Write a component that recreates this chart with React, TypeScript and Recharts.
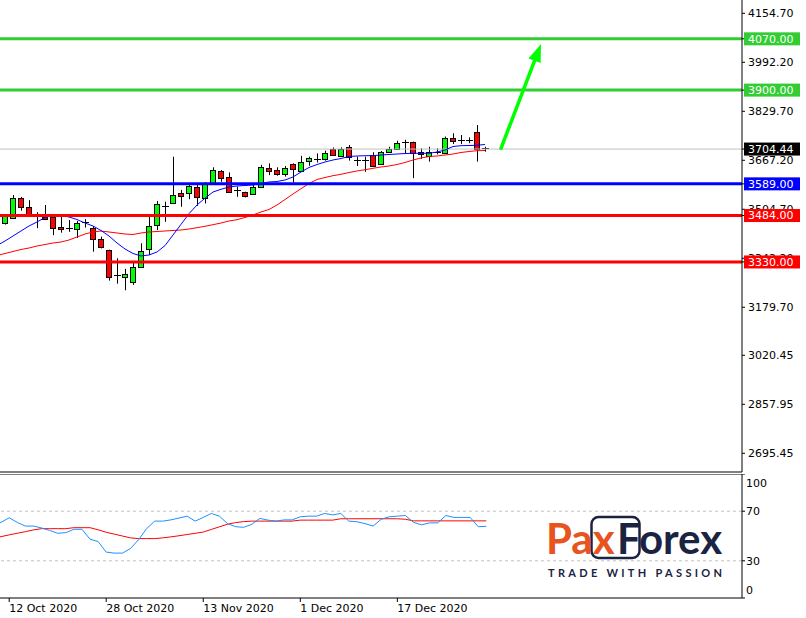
import React from 'react';
import { ComposedChart, Bar, Line, XAxis, YAxis, ReferenceLine } from 'recharts';

// ---------- categories ----------
const dates = [
  '8 Oct 2020', '9 Oct 2020', '12 Oct 2020', '13 Oct 2020', '14 Oct 2020', '15 Oct 2020', '16 Oct 2020',
  '19 Oct 2020', '20 Oct 2020', '21 Oct 2020', '22 Oct 2020', '23 Oct 2020',
  '26 Oct 2020', '27 Oct 2020', '28 Oct 2020', '29 Oct 2020', '30 Oct 2020',
  '2 Nov 2020', '3 Nov 2020', '4 Nov 2020', '5 Nov 2020', '6 Nov 2020',
  '9 Nov 2020', '10 Nov 2020', '11 Nov 2020', '12 Nov 2020', '13 Nov 2020',
  '16 Nov 2020', '17 Nov 2020', '18 Nov 2020', '19 Nov 2020', '20 Nov 2020',
  '23 Nov 2020', '24 Nov 2020', '25 Nov 2020', '26 Nov 2020', '27 Nov 2020',
  '30 Nov 2020', '1 Dec 2020', '2 Dec 2020', '3 Dec 2020', '4 Dec 2020',
  '7 Dec 2020', '8 Dec 2020', '9 Dec 2020', '10 Dec 2020', '11 Dec 2020',
  '14 Dec 2020', '15 Dec 2020', '16 Dec 2020', '17 Dec 2020', '18 Dec 2020',
  '21 Dec 2020', '22 Dec 2020', '23 Dec 2020', '24 Dec 2020', '25 Dec 2020',
  '28 Dec 2020', '29 Dec 2020', '30 Dec 2020', '31 Dec 2020', '1 Jan 2021',
];

// ---------- OHLC ----------
const opens = [null, 3458, 3475, 3541, 3511, 3488, 3480, 3480, 3446, 3444, 3438, 3464, 3444, 3406, 3370, 3287, 3280, 3265, 3314, 3372, 3453, 3516, 3524, 3560, 3558, 3578, 3543, 3591, 3632, 3611, 3568, 3561, 3554, 3580, 3641, 3635, 3623, 3655, 3633, 3666, 3672, 3671, 3705, 3682, 3710, 3668, 3668, 3685, 3654, 3696, 3704, 3727, 3727, 3696, 3682, 3696, 3690, 3740, 3735, 3736, 3760, 3707];
const highs = [null, 3489, 3552, 3546, 3535, 3495, 3519, 3486, 3480, 3469, 3466, 3472, 3449, 3414, 3371, 3342, 3307, 3328, 3392, 3482, 3532, 3530, 3679, 3569, 3591, 3591, 3595, 3644, 3635, 3627, 3580, 3563, 3588, 3652, 3657, 3644, 3648, 3657, 3682, 3679, 3690, 3699, 3710, 3710, 3718, 3679, 3679, 3694, 3698, 3712, 3732, 3735, 3729, 3707, 3712, 3707, 3746, 3757, 3751, 3743, 3784, 3712];
const lows = [null, 3454, 3474, 3500, 3480, 3442, 3469, 3419, 3427, 3430, 3410, 3444, 3364, 3375, 3268, 3258, 3236, 3254, 3312, 3353, 3436, 3463, 3523, 3513, 3538, 3516, 3524, 3589, 3596, 3560, 3546, 3544, 3553, 3578, 3618, 3616, 3613, 3593, 3631, 3649, 3660, 3666, 3682, 3679, 3666, 3648, 3629, 3646, 3654, 3694, 3704, 3690, 3608, 3672, 3663, 3687, 3690, 3721, 3721, 3724, 3663, 3696];
const closes = [null, 3482, 3541, 3511, 3489, 3486, 3471, 3444, 3438, 3445, 3458, 3465, 3405, 3379, 3281, 3286, 3289, 3314, 3366, 3449, 3521, 3519, 3552, 3550, 3582, 3544, 3591, 3635, 3608, 3563, 3566, 3550, 3580, 3646, 3633, 3623, 3641, 3637, 3663, 3674, 3671, 3692, 3685, 3705, 3677, 3667, 3667, 3649, 3694, 3704, 3724, 3726, 3692, 3687, 3696, 3695, 3740, 3732, 3734, 3736, 3704, 3704.44];

// ---------- moving averages ----------
const maFast = [3384.6, 3399.5, 3416.1, 3432.7, 3449.3, 3462.5, 3477.5, 3485.8, 3484.1, 3479.1, 3470.8, 3459.2, 3449.3, 3434.4, 3416.1, 3392.9, 3373.0, 3358.1, 3349.8, 3353.1, 3363.0, 3384.3, 3419.4, 3454.6, 3490.1, 3519.0, 3541.5, 3562.0, 3571.0, 3578.6, 3581.9, 3583.6, 3585.3, 3590.2, 3595.2, 3596.9, 3601.8, 3611.8, 3628.4, 3643.3, 3653.2, 3661.5, 3668.2, 3673.1, 3679.8, 3681.4, 3682.4, 3682.4, 3684.7, 3686.4, 3688.0, 3689.7, 3690.4, 3690.4, 3690.4, 3694.7, 3701.3, 3712.9, 3715.6, 3716.2, 3716.9, 3719.6];
const maSlow = [3351.4, 3358.1, 3364.7, 3371.3, 3376.3, 3382.9, 3387.9, 3392.9, 3396.2, 3402.8, 3412.8, 3422.7, 3429.4, 3432.7, 3429.4, 3426.1, 3422.7, 3421.1, 3426.1, 3429.4, 3431.0, 3432.7, 3434.4, 3436.0, 3439.3, 3443.6, 3448.3, 3453.6, 3459.2, 3465.9, 3470.2, 3477.5, 3485.8, 3495.7, 3504.0, 3518.9, 3537.1, 3555.4, 3573.0, 3590.2, 3603.5, 3610.1, 3616.1, 3620.7, 3626.7, 3631.7, 3636.0, 3640.6, 3644.9, 3648.3, 3653.2, 3659.9, 3668.2, 3674.8, 3679.8, 3681.4, 3684.7, 3688.0, 3693.0, 3696.3, 3699.0, 3699.7];

// ---------- oscillator ----------
const oscMain = [58.5, 61, 64.7, 61, 58, 58, 56.5, 54.5, 52.2, 52.7, 55.4, 55.4, 47.4, 45.5, 37, 36.2, 36.2, 39.9, 47, 56, 62, 62, 63, 64.5, 66, 62, 65, 68.2, 66, 60, 57.5, 57, 59.4, 64.2, 62.8, 62, 63, 63, 65.5, 66, 66, 68.2, 67, 68.2, 62, 61.5, 60, 58, 63.5, 65.5, 66, 66.5, 61, 59, 60.6, 60.6, 66.5, 65, 65, 65, 57.5, 57.8];
const oscSignal = [48.2, 49.5, 50.9, 52.2, 53.5, 54.9, 55.9, 55.9, 55.9, 55.9, 56.7, 56.7, 56.7, 55, 53, 51.5, 50, 48.5, 47.9, 47.9, 47.9, 48.5, 49.3, 50.2, 51.2, 52.2, 53.2, 55.3, 57.4, 59.5, 60.8, 61.6, 62, 62, 62, 62, 62, 62, 62.8, 62.8, 62.8, 62.8, 62.8, 63.9, 63.9, 63.9, 63.9, 63.9, 63.9, 63.9, 63.9, 63.5, 62.2, 62.2, 62.2, 62.2, 62.2, 62.2, 62.2, 62.2, 62.2, 62.2];

// ---------- ticks & levels ----------
const priceTicks = [4154.70, 3992.20, 3829.70, 3667.20, 3504.70, 3342.20, 3179.70, 3020.45, 2857.95, 2695.45];
const oscTicks = [100, 70, 30, 0];
const oscLevels = [70, 30];
const dateTickLabels = ['12 Oct 2020', '28 Oct 2020', '13 Nov 2020', '1 Dec 2020', '17 Dec 2020'];
const resistanceLevels = [4070, 3900];
const pivotLevels = [3589];
const supportLevels = [3484, 3330];
const currentPrice = 3704.44;
const arrowFrom = { k: 63, price: 3707 };
const arrowTo = { k: 68, price: 4053 };

// ---------- styles ----------
const PRICE_DOMAIN: [number, number] = [2633.4, 4198.8];
const TOTAL_SLOTS = 93;
const FONT = 'DejaVu Sans';
const GREEN_LVL = '#32cd32';
const BLUE_LVL = '#0000ff';
const RED_LVL = '#ff0000';
const ORANGE = '#e8541e';
const NAVY = '#1a2341';

const tagBg: Record<string, string> = {};
resistanceLevels.forEach((v) => (tagBg[v.toFixed(2)] = GREEN_LVL));
pivotLevels.forEach((v) => (tagBg[v.toFixed(2)] = BLUE_LVL));
supportLevels.forEach((v) => (tagBg[v.toFixed(2)] = RED_LVL));
tagBg[currentPrice.toFixed(2)] = '#000000';

const rows = Array.from({ length: TOTAL_SLOTS }, (_, k) => ({
  k,
  o: opens[k] ?? null,
  h: highs[k] ?? null,
  l: lows[k] ?? null,
  c: closes[k] ?? null,
  maFast: maFast[k] ?? null,
  maSlow: maSlow[k] ?? null,
  osc: oscMain[k] ?? null,
  sig: oscSignal[k] ?? null,
}));

const dateTicks = dateTickLabels.map((d) => dates.indexOf(d));
const mainYTicks = [
  ...priceTicks,
  ...resistanceLevels,
  ...pivotLevels,
  ...supportLevels,
  currentPrice,
];

const Candle = (p: any) => {
  const { x, y, width, height, payload } = p;
  if (!payload || payload.o == null || payload.h == null) return <g />;
  const top = Math.min(y, y + height);
  const bot = Math.max(y, y + height);
  const span = payload.h - payload.l;
  const kk = span > 0 ? (bot - top) / span : 0;
  const py = (v: number) => top + (payload.h - v) * kk;
  const cx = Math.floor(x + width / 2) + 0.5;
  const yo = py(payload.o);
  const yc = py(payload.c);
  const bt = Math.min(yo, yc);
  const bb = Math.max(yo, yc);
  const up = payload.c >= payload.o;
  return (
    <g>
      <line x1={cx} x2={cx} y1={top} y2={bot} stroke="#000" strokeWidth={1} />
      {bb - bt < 1.5 ? (
        <line x1={cx - 3.5} x2={cx + 3.5} y1={Math.round(yo) + 0.5} y2={Math.round(yo) + 0.5} stroke="#000" strokeWidth={1} />
      ) : (
        <rect
          x={cx - 3}
          y={Math.round(bt) + 0.5}
          width={5}
          height={Math.max(1, Math.round(bb) - Math.round(bt))}
          fill={up ? '#00ff00' : '#ff0000'}
          stroke="#000"
          strokeWidth={1}
        />
      )}
    </g>
  );
};

const PriceTick = (p: any) => {
  const { x, y, payload } = p;
  const label = Number(payload.value).toFixed(2);
  const bg = tagBg[label];
  if (bg) {
    return (
      <g>
        <rect x={x - 3} y={y - 6.5} width={56} height={13} fill={bg} />
        <text x={x + 1} y={y} dy="0.36em" fill="#fff" fontFamily={FONT} fontSize={11}>
          {label}
        </text>
      </g>
    );
  }
  return (
    <text x={x + 1} y={y} dy="0.36em" fill="#000" fontFamily={FONT} fontSize={11}>
      {label}
    </text>
  );
};

const OscTick = (p: any) => {
  const { x, y, payload } = p;
  const v = payload.value;
  const shift = v === 100 ? 9 : v === 0 ? -8 : 0;
  return (
    <text x={x - 1} y={y + shift} dy="0.36em" fill="#000" fontFamily={FONT} fontSize={11}>
      {v}
    </text>
  );
};

const DateTick = (p: any) => {
  const { x, y, payload } = p;
  return (
    <text x={x} y={y} dy="0.75em" fill="#000" fontFamily={FONT} fontSize={11} textAnchor="start">
      {dates[payload.value]}
    </text>
  );
};

const Arrow = (p: any) => {
  const { x1, y1, x2, y2 } = p;
  if ([x1, y1, x2, y2].some((v) => v == null || isNaN(v))) return <g />;
  const dx = x2 - x1;
  const dy = y2 - y1;
  const len = Math.sqrt(dx * dx + dy * dy) || 1;
  const ux = dx / len;
  const uy = dy / len;
  const headL = 18;
  const headW = 6.5;
  const bx = x2 - ux * headL;
  const by = y2 - uy * headL;
  const nx = -uy;
  const ny = ux;
  const pts = `${x2},${y2} ${bx + nx * headW},${by + ny * headW} ${bx - nx * headW},${by - ny * headW}`;
  return (
    <g>
      <line x1={x1} y1={y1} x2={bx + ux * 2} y2={by + uy * 2} stroke="#00ff00" strokeWidth={3.5} strokeLinecap="round" />
      <polygon points={pts} fill="#00ff00" />
    </g>
  );
};

const xPadding = { left: -7, right: 5 };

export default function App() {
  return (
    <div style={{ position: 'absolute', left: 0, top: 0, width: 806, height: 618, background: '#fff', overflow: 'hidden' }}>
      <div style={{ position: 'absolute', left: 0, top: 0 }}>
        <ComposedChart width={806} height={473} data={rows} margin={{ top: 0, right: 0, bottom: 0, left: 0 }}>
          <XAxis dataKey="k" type="category" height={1} tick={false} tickLine={false} axisLine={{ stroke: '#000' }} padding={xPadding} />
          <YAxis
            orientation="right"
            type="number"
            width={64}
            domain={PRICE_DOMAIN}
            allowDataOverflow
            ticks={mainYTicks}
            interval={0}
            tick={<PriceTick />}
            tickSize={3}
            tickLine={{ stroke: '#000' }}
            axisLine={{ stroke: '#000' }}
          />
          <ReferenceLine y={currentPrice} stroke="#c0c0c0" strokeWidth={1} />
          <Bar dataKey={(r: any) => (r.l == null ? null : [r.l, r.h])} barSize={6} shape={<Candle />} isAnimationActive={false} />
          <Line dataKey="maSlow" stroke="#ff0000" strokeWidth={1} dot={false} activeDot={false} isAnimationActive={false} />
          <Line dataKey="maFast" stroke="#0000ff" strokeWidth={1} dot={false} activeDot={false} isAnimationActive={false} />
          {resistanceLevels.map((v) => (
            <ReferenceLine key={'r' + v} y={v} stroke={GREEN_LVL} strokeWidth={3} />
          ))}
          {pivotLevels.map((v) => (
            <ReferenceLine key={'p' + v} y={v} stroke={BLUE_LVL} strokeWidth={3} />
          ))}
          {supportLevels.map((v) => (
            <ReferenceLine key={'s' + v} y={v} stroke={RED_LVL} strokeWidth={3} />
          ))}
          <ReferenceLine
            segment={[
              { x: arrowFrom.k, y: arrowFrom.price },
              { x: arrowTo.k, y: arrowTo.price },
            ]}
            shape={Arrow}
          />
        </ComposedChart>
      </div>
      <div style={{ position: 'absolute', left: 0, top: 474 }}>
        <ComposedChart width={806} height={144} data={rows} margin={{ top: 0, right: 0, bottom: 0, left: 0 }}>
          <XAxis
            dataKey="k"
            type="category"
            height={20}
            ticks={dateTicks}
            interval={0}
            tick={<DateTick />}
            tickSize={4}
            tickLine={{ stroke: '#000' }}
            axisLine={{ stroke: '#000' }}
            padding={xPadding}
          />
          <YAxis
            orientation="right"
            type="number"
            width={64}
            domain={[0, 100]}
            ticks={oscTicks}
            interval={0}
            tick={<OscTick />}
            tickSize={3}
            tickLine={{ stroke: '#000' }}
            axisLine={{ stroke: '#000' }}
          />
          <ReferenceLine y={100} stroke="#000" strokeWidth={1} />
          {oscLevels.map((v) => (
            <ReferenceLine key={'o' + v} y={v} stroke="#c0c0c0" strokeDasharray="3 3" />
          ))}
          <Line dataKey="sig" stroke="#ff0000" strokeWidth={1} dot={false} activeDot={false} isAnimationActive={false} />
          <Line dataKey="osc" stroke="#1e90ff" strokeWidth={1} dot={false} activeDot={false} isAnimationActive={false} />
        </ComposedChart>
      </div>
      <svg width={806} height={618} style={{ position: 'absolute', left: 0, top: 0, pointerEvents: 'none' }}>
        <rect x={591.5} y={517} width={48} height={41} rx={7} fill="#fff" stroke={NAVY} strokeWidth={2.5} />
        <text x={546} y={554} fontFamily="Lato" fontWeight={700} fontSize={42} fill={ORANGE}>
          Pax
        </text>
        <text x={617} y={554} fontFamily="Lato" fontWeight={700} fontSize={42} fill={NAVY}>
          Forex
        </text>
        <text x={548} y={577} fontFamily="Lato" fontWeight={700} fontSize={11} fill={NAVY} textLength={174} lengthAdjust="spacing">
          TRADE WITH PASSION
        </text>
      </svg>
    </div>
  );
}
